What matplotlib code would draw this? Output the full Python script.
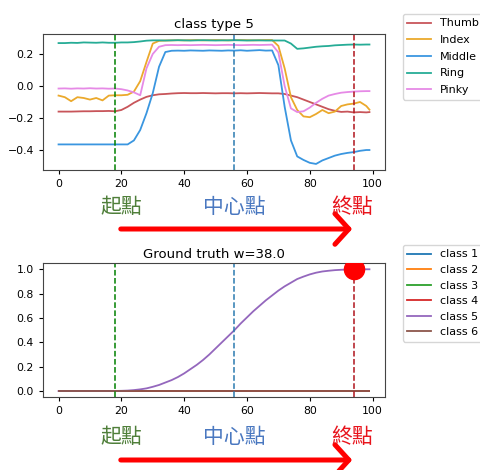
import matplotlib
matplotlib.use("Agg")
import matplotlib.pyplot as plt
from matplotlib.patches import FancyArrowPatch

plt.rcParams['font.family'] = ['DejaVu Sans', 'Noto Sans CJK TC']

# sample positions (frame index)
x = list(range(0, 100, 2)) + [99]

thumb = [-0.160, -0.160, -0.160, -0.159, -0.158, -0.158, -0.157, -0.157, -0.156, -0.158,
         -0.150, -0.130, -0.105, -0.085, -0.068, -0.058, -0.052, -0.050, -0.047, -0.045,
         -0.044, -0.045, -0.045, -0.044, -0.045, -0.046, -0.045, -0.045, -0.046, -0.045,
         -0.046, -0.045, -0.044, -0.045, -0.046, -0.046, -0.050, -0.060, -0.070, -0.085,
         -0.100, -0.115, -0.130, -0.145, -0.155, -0.162, -0.160, -0.165, -0.163, -0.165, -0.163]
index = [-0.060, -0.070, -0.095, -0.070, -0.075, -0.085, -0.075, -0.090, -0.060, -0.058,
         -0.058, -0.055, -0.035, 0.030, 0.150, 0.265, 0.282, 0.284, 0.285, 0.286,
         0.285, 0.286, 0.287, 0.285, 0.286, 0.287, 0.286, 0.285, 0.286, 0.287,
         0.286, 0.285, 0.286, 0.287, 0.287, 0.250, 0.110, -0.070, -0.150, -0.190,
         -0.195, -0.175, -0.150, -0.170, -0.160, -0.125, -0.115, -0.110, -0.100, -0.125, -0.148]
middle = [-0.365, -0.365, -0.365, -0.365, -0.365, -0.365, -0.365, -0.365, -0.365, -0.365,
          -0.365, -0.365, -0.340, -0.275, -0.170, -0.045, 0.120, 0.212, 0.220, 0.221,
          0.220, 0.222, 0.221, 0.220, 0.222, 0.221, 0.220, 0.222, 0.221, 0.223,
          0.220, 0.222, 0.224, 0.221, 0.222, 0.130, -0.130, -0.340, -0.440, -0.462,
          -0.480, -0.487, -0.465, -0.450, -0.435, -0.425, -0.418, -0.413, -0.405, -0.400, -0.400]
ring = [0.268, 0.268, 0.270, 0.269, 0.272, 0.271, 0.270, 0.272, 0.270, 0.270,
        0.272, 0.272, 0.274, 0.278, 0.283, 0.285, 0.285, 0.284, 0.285, 0.286,
        0.285, 0.284, 0.285, 0.286, 0.285, 0.284, 0.285, 0.285, 0.286, 0.285,
        0.284, 0.285, 0.285, 0.284, 0.284, 0.284, 0.284, 0.265, 0.232, 0.235,
        0.240, 0.245, 0.248, 0.250, 0.254, 0.256, 0.258, 0.259, 0.258, 0.259, 0.259]
pinky = [-0.016, -0.015, -0.017, -0.015, -0.016, -0.014, -0.016, -0.015, -0.017, -0.016,
         -0.020, -0.028, -0.040, -0.058, 0.110, 0.200, 0.245, 0.255, 0.256, 0.255,
         0.256, 0.255, 0.256, 0.257, 0.256, 0.255, 0.256, 0.257, 0.256, 0.255,
         0.256, 0.257, 0.256, 0.257, 0.258, 0.210, 0.000, -0.140, -0.163, -0.158,
         -0.135, -0.105, -0.080, -0.060, -0.050, -0.042, -0.038, -0.035, -0.033, -0.032, -0.032]

finger_names = ["Thumb", "Index", "Middle", "Ring", "Pinky"]
finger_colors = ["#c8555a", "#eba92c", "#3a96e0", "#26ac96", "#e68ae6"]

gt_class5 = [0.0, 0.0, 0.0, 0.0, 0.0, 0.0, 0.0, 0.0, 0.0, 0.001,
             0.002, 0.004, 0.008, 0.014, 0.022, 0.035, 0.050, 0.070, 0.090, 0.115,
             0.145, 0.180, 0.215, 0.255, 0.300, 0.350, 0.400, 0.450, 0.500, 0.555,
             0.605, 0.655, 0.700, 0.745, 0.785, 0.825, 0.860, 0.890, 0.920, 0.940,
             0.958, 0.972, 0.982, 0.988, 0.993, 0.996, 0.998, 1.0, 1.0, 1.0, 1.0]
gt_zero = [0.0] * len(x)
class_names = ["class 1", "class 2", "class 3", "class 4", "class 5", "class 6"]

start, center, end = 18, 56, 94
w = 38.0

fig = plt.figure(figsize=(4.81, 4.70), dpi=100)
ax1 = fig.add_axes([0.0894, 0.638, 0.7110, 0.290])
ax2 = fig.add_axes([0.0894, 0.155, 0.7110, 0.285])

for vals, name, c in zip([thumb, index, middle, ring, pinky], finger_names, finger_colors):
    ax1.plot(x, vals, color=c, lw=1.3, label=name)
ax1.set_title("class type 5", fontsize=9.5, pad=4)

for i, name in enumerate(class_names):
    vals = gt_class5 if i == 4 else gt_zero
    ax2.plot(x, vals, color="C%d" % i, lw=1.3, label=name)
ax2.set_title("Ground truth w=%.1f" % w, fontsize=9.5, pad=4)

for ax in (ax1, ax2):
    ax.axvline(start, color="green", ls="--", lw=1.1)
    ax.axvline(center, color="#2b7bb0", ls="--", lw=1.1)
    ax.axvline(end, color="#b0141c", ls="--", lw=1.1)
    ax.set_xticks([0, 20, 40, 60, 80, 100])
    ax.tick_params(labelsize=7.8, length=3)
    for s in ax.spines.values():
        s.set_color("#444444")

ax1.set_yticks([-0.4, -0.2, 0.0, 0.2])
ax2.set_yticks([0.0, 0.2, 0.4, 0.6, 0.8, 1.0])
ax2.plot([end], [1.0], "o", color="red", ms=14.5, zorder=5)

fig.legend(*ax1.get_legend_handles_labels(), loc="upper left",
           bbox_to_anchor=(403 / 481, 1 - 14 / 470), bbox_transform=fig.transFigure,
           borderaxespad=0, fontsize=8.0, labelspacing=0.6, handlelength=2.1)
fig.legend(*ax2.get_legend_handles_labels(), loc="upper left",
           bbox_to_anchor=(403 / 481, 1 - 245 / 470), bbox_transform=fig.transFigure,
           borderaxespad=0, fontsize=8.0, labelspacing=0.5, handlelength=2.1)

cjk = ["Noto Sans CJK TC", "DejaVu Sans"]
for ty, ay in [(1 - 207 / 470, 1 - 229 / 470), (1 - 437 / 470, 1 - 460 / 470)]:
    fig.text(121 / 481, ty, "起點", color="#4f7f3a", fontsize=15, family=cjk,
             ha="center", va="center")
    fig.text(234 / 481, ty, "中心點", color="#4a78c0", fontsize=15, family=cjk,
             ha="center", va="center")
    fig.text(352 / 481, ty, "終點", color="#e8141c", fontsize=15, family=cjk,
             ha="center", va="center")
    arr = FancyArrowPatch((118 / 481, ay), (355 / 481, ay), transform=fig.transFigure,
                          arrowstyle="->,head_length=0.5,head_width=0.55",
                          mutation_scale=20, lw=3.6, color="red")
    fig.patches.append(arr)

fig.savefig("out.png", dpi=100)
